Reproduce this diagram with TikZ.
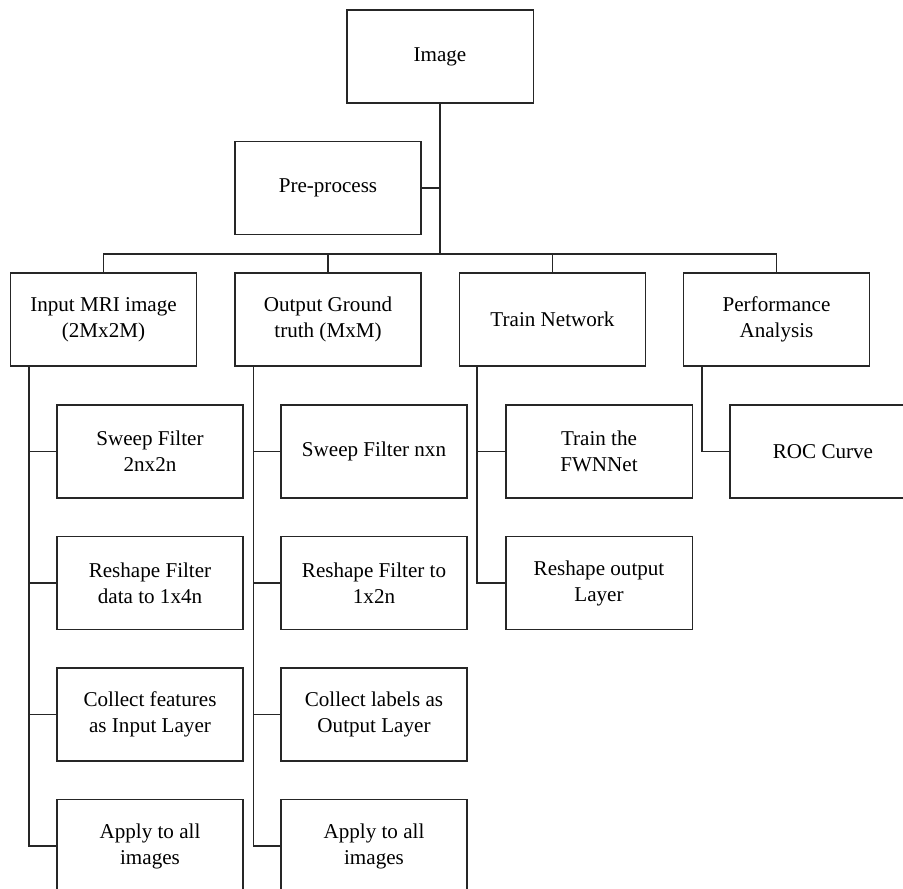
\documentclass[tikz,border=0pt]{standalone}
\usepackage{fontspec}
\setmainfont{Liberation Serif}
\usetikzlibrary{calc}
\tikzset{
  blockbox/.style={draw=black!85, line width=0.75pt, fill=white,
    minimum width=4.65cm, minimum height=2.325cm, inner sep=0pt, align=center},
  wire/.style={draw=black!85, line width=0.85pt},
}
\begin{document}
\begin{tikzpicture}[x=0.025cm, y=-0.025cm]
                \useasboundingbox (0,0) rectangle (903,889);
                \clip (0,0) rectangle (903,889);
                {\fontsize{15}{18.5}\selectfont

                % Top block and the pre-process block
                \node [blockbox] (img) at (440.0,56.5) {Image};%
                \node [blockbox] (pre) at (328.0,188.0) {Pre-process};%
                \coordinate (bus) at (440.0,254.0);%

                % First level blocks
                \node [blockbox] (in) at (103.5,319.5) {Input MRI image\\(2Mx2M)};%
                \node [blockbox] (out) at (328.0,319.5) {Output Ground\\truth (MxM)};%
                \node [blockbox] (train) at (552.5,319.5) {Train Network};%
                \node [blockbox] (perf) at (776.5,319.5) {Performance\\Analysis};%

                % Steps under Input MRI image
                \node [blockbox] (in1) at (150.0,451.5) {Sweep Filter\\2nx2n};%
                \node [blockbox] (in2) at (150.0,583.0) {Reshape Filter\\data to 1x4n};%
                \node [blockbox] (in3) at (150.0,714.5) {Collect features\\as Input Layer};%
                \node [blockbox] (in4) at (150.0,846.0) {Apply to all\\images};%

                % Steps under Output Ground truth
                \node [blockbox] (out1) at (374.0,451.5) {Sweep Filter nxn};%
                \node [blockbox] (out2) at (374.0,583.0) {Reshape Filter to\\1x2n};%
                \node [blockbox] (out3) at (374.0,714.5) {Collect labels as\\Output Layer};%
                \node [blockbox] (out4) at (374.0,846.0) {Apply to all\\images};%

                % Steps under Train Network
                \node [blockbox] (train1) at (599.0,451.5) {Train the\\FWNNet};%
                \node [blockbox] (train2) at (599.0,583.0) {Reshape output\\Layer};%

                % Step under Performance Analysis
                \node [blockbox] (perf1) at (823.0,451.5) {ROC Curve};%

                % Drawing trunk and bus
                \draw [wire] (img.south) -- (bus);%
                \draw [wire, line width=0.75pt] (pre.east) -- (pre.east -| bus);%
                \draw [wire] (in.north) -- (in.north |- bus) -- (perf.north |- bus) -- (perf.north);%
                \draw [wire] (out.north) -- (out.north |- bus);%
                \draw [wire] (train.north) -- (train.north |- bus);%

                % Drawing side lines
                \foreach \k in {1,...,4} {%
                  \draw [wire] ($(in.south west)+(19,0)$) |- (in\k.west);%
                  \draw [wire] ($(out.south west)+(19,0)$) |- (out\k.west);%
                }
                \foreach \k in {1,2} {%
                  \draw [wire] ($(train.south west)+(18,0)$) |- (train\k.west);%
                }
                \draw [wire] ($(perf.south west)+(19,0)$) |- (perf1.west);%
                }
            \end{tikzpicture}
\end{document}
